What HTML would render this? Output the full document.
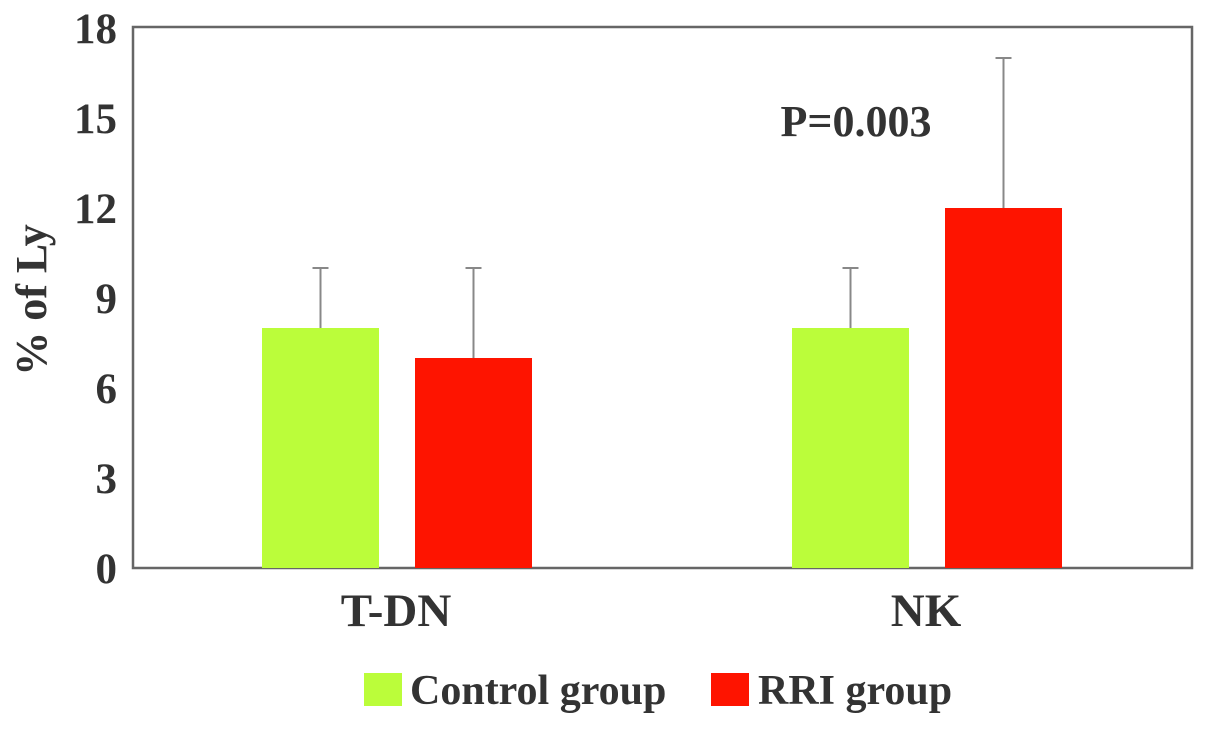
<!DOCTYPE html>
<html><head><meta charset="utf-8"><style>
body{margin:0;background:#fff;width:1205px;height:725px;overflow:hidden}
text{font-family:"Liberation Serif",serif;font-weight:bold;fill:#333}
</style></head><body>
<svg id="c" width="1205" height="725">
<rect x="133" y="27" width="1059" height="541" fill="none" stroke="#666" stroke-width="2.5"/>
<text x="46" y="300" font-size="44" text-anchor="middle" transform="rotate(-90 46 300)">% of Ly</text>
<text x="856" y="136" font-size="44" text-anchor="middle">P=0.003</text>
<rect x="364" y="673" width="38" height="33" fill="#bbfd3a"/>
<text x="410" y="704" font-size="42">Control group</text>
<rect x="711" y="673" width="38" height="33" fill="#fe1400"/>
<text x="758" y="704" font-size="42">RRI group</text>
</svg>
<script>
const categories=["T-DN","NK"];
const controlValues=[8,8];
const controlErrors=[2,2];
const rriValues=[7,12];
const rriErrors=[3,5];
const yTicks=[0,3,6,9,12,15,18];
const svg=document.getElementById('c');
const NS='http://www.w3.org/2000/svg';
const y0=568,yTop=28,yMax=18;
const y=v=>y0-(y0-yTop)*v/yMax;
const groupCenter=[396,926];
function mk(t,a){const e=document.createElementNS(NS,t);for(const k in a)e.setAttribute(k,a[k]);svg.appendChild(e);return e;}
yTicks.forEach(t=>{const e=mk('text',{x:117,y:y(t)+15,'font-size':43,'text-anchor':'end'});e.textContent=t;

});
categories.forEach((c,i)=>{
 const e=mk('text',{x:groupCenter[i],y:626,'font-size':47,'text-anchor':'middle'});e.textContent=c;
 
 
 const series=[[controlValues,controlErrors,'#bbfd3a',-134,'control'],[rriValues,rriErrors,'#fe1400',19,'rri']];
 series.forEach(([vals,errs,col,off,nm])=>{
  const x=groupCenter[i]+off, w=117, v=vals[i];
  const top=y(v+errs[i]), cx=x+w/2;
  const l=mk('line',{x1:cx,x2:cx,y1:top,y2:y(v),stroke:'#888','stroke-width':2});
  
  
  const cap=mk('line',{x1:cx-8,x2:cx+8,y1:top,y2:top,stroke:'#888','stroke-width':2});
  
  
  const r=mk('rect',{x:x,y:y(v),width:w,height:y0-y(v),fill:col});
  
  
 });
});
</script>
</body></html>
